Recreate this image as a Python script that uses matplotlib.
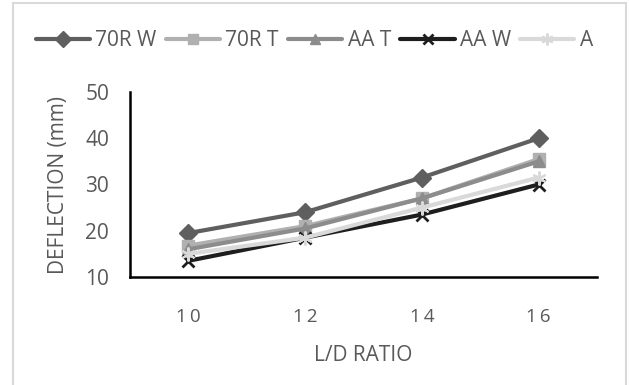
import numpy as np
import matplotlib.pyplot as plt
from matplotlib.patches import Rectangle

plt.rcParams['font.family'] = ['Open Sans', 'DejaVu Sans']

# deflection (mm) against L/D ratio
ld_ratio = ["10", "12", "14", "16"]
series_names = ["70R W", "70R T", "AA T", "AA W", "A"]
defl_70r_w = [19.5, 24.0, 31.5, 40.0]
defl_70r_t = [16.8, 21.0, 27.0, 35.5]
defl_aa_t = [16.0, 20.5, 27.0, 35.0]
defl_aa_w = [13.5, 18.5, 23.5, 30.0]
defl_a = [15.0, 18.5, 25.0, 31.5]

txt = '#595959'
styles = [
    dict(color='#5f5f5f', marker='D', ms=9),
    dict(color='#b0b0b0', marker='s', ms=9),
    dict(color='#8c8c8c', marker='^', ms=9),
    dict(color='#1e1e1e', marker='x', ms=9, mew=2),
    dict(color='#d9d9d9', marker=(6, 2, 0), ms=10, mew=1.5),
]

fig = plt.figure(figsize=(6.29, 3.85), dpi=100)
ax = fig.add_axes([130/629, 1 - 277/385, (597 - 130)/629, (277 - 92)/385])

x = np.arange(len(ld_ratio))
all_vals = [defl_70r_w, defl_70r_t, defl_aa_t, defl_aa_w, defl_a]
for name, vals, st in zip(series_names, all_vals, styles):
    ax.plot(x, vals, lw=3, label=name, solid_capstyle='round', **st)

ax.set_xlim(-0.5, len(ld_ratio) - 0.5)
ax.set_ylim(10, 50)
ax.set_yticks([10, 20, 30, 40, 50])
ax.set_xticks(x)
ax.set_xticklabels(["\u2009".join(s) for s in ld_ratio])
ax.tick_params(length=0, labelsize=15, colors=txt)
ax.tick_params(axis='y', pad=15)
ax.tick_params(axis='x', labelsize=13.5, pad=22)

for side in ['top', 'right']:
    ax.spines[side].set_visible(False)
for side in ['left', 'bottom']:
    ax.spines[side].set_linewidth(1.8)
    ax.spines[side].set_color('black')

ax.set_xlabel("L/D RATIO", fontsize=15, color=txt, labelpad=14)
ax.set_ylabel("DEFLECTION (mm)", fontsize=15, color=txt, labelpad=12)

fig.legend(loc='center', bbox_to_anchor=(0.5, 1 - 41/385), ncol=5,
           frameon=False, fontsize=15, handlelength=2.6, handletextpad=0.25,
           columnspacing=0.45, labelcolor=txt, markerscale=0.85)

# light chart border
fig.patches.append(Rectangle((13/629, -0.1), (626 - 13)/629, 1.1 - 3/385,
                             transform=fig.transFigure, fill=False,
                             edgecolor='#d9d9d9', lw=1.5))

fig.savefig("out.png", dpi=100)
